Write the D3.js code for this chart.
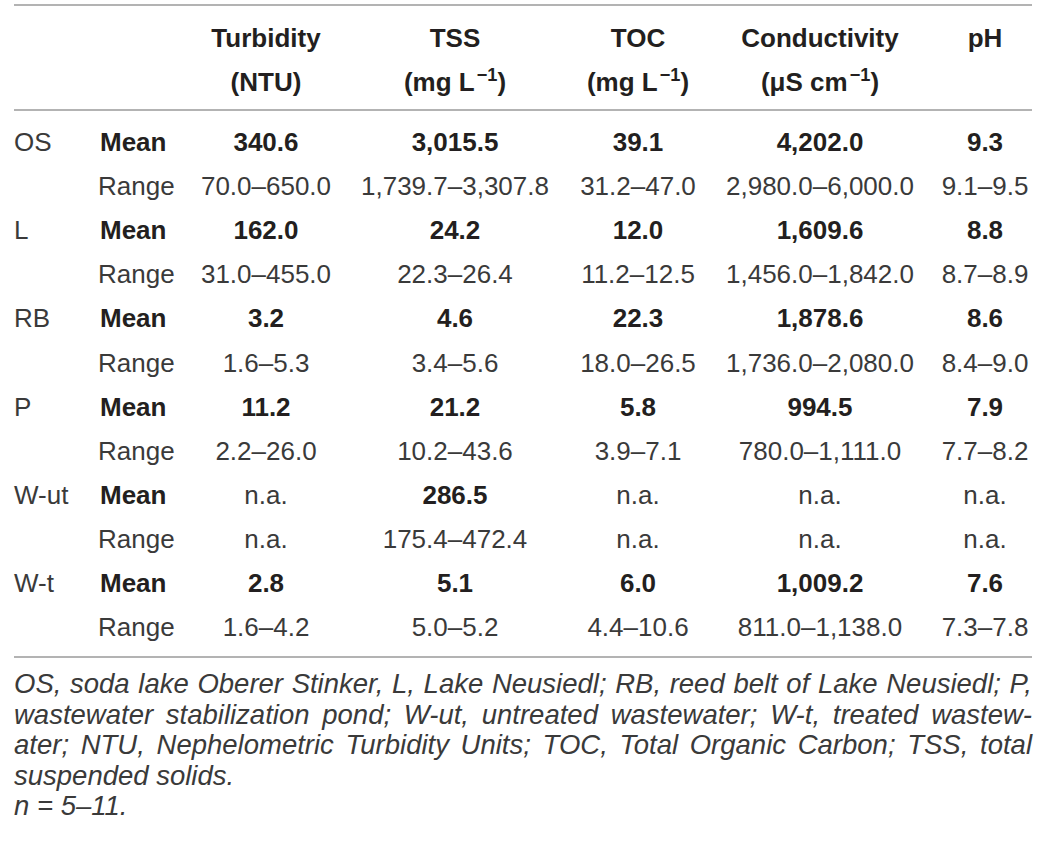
<!DOCTYPE html>
<html>
<head>
<meta charset="utf-8">
<script src="https://cdn.jsdelivr.net/npm/d3@7"></script>
<style>
  body { margin: 0; background: #fff; }
  text { font-family: "Liberation Sans", Arial, sans-serif; }
</style>
</head>
<body>
<div id="canvas"></div>
<script>
var width = 1040,
	height = 847;

// table content
var sites = ["OS", "L", "RB", "P", "W-ut", "W-t"];
var stats = ["Mean", "Range"];
var params = ["Turbidity", "TSS", "TOC", "Conductivity", "pH"];
var units = [
	[{t: "(NTU)"}],
	[{t: "(mg L"}, {t: "\u22121", sup: true}, {t: ")"}],
	[{t: "(mg L"}, {t: "\u22121", sup: true}, {t: ")"}],
	[{t: "(\u03bcS cm"}, {t: "\u22121", sup: true}, {t: ")"}],
	[]
];
var means = [
	["340.6", "3,015.5", "39.1", "4,202.0", "9.3"],
	["162.0", "24.2", "12.0", "1,609.6", "8.8"],
	["3.2", "4.6", "22.3", "1,878.6", "8.6"],
	["11.2", "21.2", "5.8", "994.5", "7.9"],
	["n.a.", "286.5", "n.a.", "n.a.", "n.a."],
	["2.8", "5.1", "6.0", "1,009.2", "7.6"]
];
var ranges = [
	["70.0\u2013650.0", "1,739.7\u20133,307.8", "31.2\u201347.0", "2,980.0\u20136,000.0", "9.1\u20139.5"],
	["31.0\u2013455.0", "22.3\u201326.4", "11.2\u201312.5", "1,456.0\u20131,842.0", "8.7\u20138.9"],
	["1.6\u20135.3", "3.4\u20135.6", "18.0\u201326.5", "1,736.0\u20132,080.0", "8.4\u20139.0"],
	["2.2\u201326.0", "10.2\u201343.6", "3.9\u20137.1", "780.0\u20131,111.0", "7.7\u20138.2"],
	["n.a.", "175.4\u2013472.4", "n.a.", "n.a.", "n.a."],
	["1.6\u20134.2", "5.0\u20135.2", "4.4\u201310.6", "811.0\u20131,138.0", "7.3\u20137.8"]
];
var footLines = [
	"OS, soda lake Oberer Stinker, L, Lake Neusiedl; RB, reed belt of Lake Neusiedl; P,",
	"wastewater stabilization pond; W-ut, untreated wastewater; W-t, treated wastew-",
	"ater; NTU, Nephelometric Turbidity Units; TOC, Total Organic Carbon; TSS, total",
	"suspended solids.",
	"n = 5\u201311."
];

var left = 14, right = 1032;
var ink = "#231f20", light = "#3a3a3a";
var fs = 26, footFs = 27.5;

var svg = d3.select("#canvas").append("svg")
	.attr("width", width)
	.attr("height", height);

// columns
var x = d3.scaleOrdinal()
	.domain(params)
	.range([266, 455, 638, 820, 985]);

// body rows (one per site/stat pair)
var rowKeys = [];
sites.forEach(function(s){
	stats.forEach(function(st){ rowKeys.push(s + "|" + st); });
});
var y = d3.scalePoint()
	.domain(rowKeys)
	.range([151, 151 + 44.1 * (rowKeys.length - 1)]);

var yHead = d3.scalePoint().domain([0, 1]).range([47, 91]);

// rules
var rules = [5, 110, 657];
svg.selectAll(".rule")
	.data(rules)
	.enter().append("line")
	.attr("class", "rule")
	.attr("x1", left).attr("x2", right)
	.attr("y1", function(d){ return d; })
	.attr("y2", function(d){ return d; })
	.attr("stroke", "#9a9a9a")
	.attr("stroke-width", 1.5);

// header
var head = svg.selectAll(".head")
	.data(params)
	.enter().append("g")
	.attr("class", "head");

head.append("text")
	.attr("x", function(d){ return x(d); })
	.attr("y", yHead(0))
	.attr("text-anchor", "middle")
	.attr("font-size", fs)
	.attr("font-weight", "bold")
	.attr("fill", ink)
	.text(function(d){ return d; });

head.append("text")
	.attr("x", function(d){ return x(d); })
	.attr("y", yHead(1))
	.attr("text-anchor", "middle")
	.attr("font-size", fs)
	.attr("font-weight", "bold")
	.attr("fill", ink)
	.each(function(d, i){
		var t = d3.select(this);
		units[i].forEach(function(u){
			var sp = t.append("tspan").text(u.t);
			if(u.sup){
				sp.attr("font-size", fs * 0.7).attr("dy", -10).attr("dx", 2);
			} else if(t.selectAll("tspan").size() > 1){
				sp.attr("dy", 10);
			}
		});
	});

// body
var rows = svg.selectAll(".row")
	.data(rowKeys)
	.enter().append("g")
	.attr("class", "row")
	.attr("transform", function(d){ return "translate(0," + y(d) + ")"; });

rows.filter(function(d){ return d.split("|")[1] === "Mean"; })
	.append("text")
	.attr("x", left)
	.attr("font-size", fs)
	.attr("fill", light)
	.text(function(d){ return d.split("|")[0]; });

rows.append("text")
	.attr("x", function(d){ return d.split("|")[1] === "Mean" ? 100 : 98; })
	.attr("font-size", fs)
	.attr("font-weight", function(d){ return d.split("|")[1] === "Mean" ? "bold" : "normal"; })
	.attr("fill", function(d){ return d.split("|")[1] === "Mean" ? ink : light; })
	.text(function(d){ return d.split("|")[1]; });

rows.each(function(d){
	var parts = d.split("|");
	var si = sites.indexOf(parts[0]);
	var isMean = parts[1] === "Mean";
	var vals = isMean ? means[si] : ranges[si];
	d3.select(this).selectAll(".cell")
		.data(vals)
		.enter().append("text")
		.attr("class", "cell")
		.attr("x", function(v, j){ return x(params[j]); })
		.attr("text-anchor", "middle")
		.attr("font-size", fs)
		.attr("font-weight", function(v){ return isMean && v !== "n.a." ? "bold" : "normal"; })
		.attr("fill", function(v){ return isMean && v !== "n.a." ? ink : light; })
		.text(function(v){ return v; });
});

// footnote, justified like the source
var yFoot = d3.scalePoint()
	.domain(d3.range(footLines.length))
	.range([693, 815]);

footLines.forEach(function(line, li){
	var t = svg.append("text")
		.attr("y", yFoot(li))
		.attr("font-size", footFs)
		.attr("font-style", "italic")
		.attr("fill", light);
	var words = line.split(" ");
	var spans = words.map(function(w){
		return t.append("tspan").text(w);
	});
	var justify = li < 3;
	var widths = spans.map(function(s){ return s.node().getComputedTextLength(); });
	var gap = justify ? (right - left - d3.sum(widths)) / (words.length - 1) : footFs * 0.278;
	var cx = left;
	spans.forEach(function(s, k){
		s.attr("x", cx);
		cx += widths[k] + gap;
	});
});
</script>
</body>
</html>
